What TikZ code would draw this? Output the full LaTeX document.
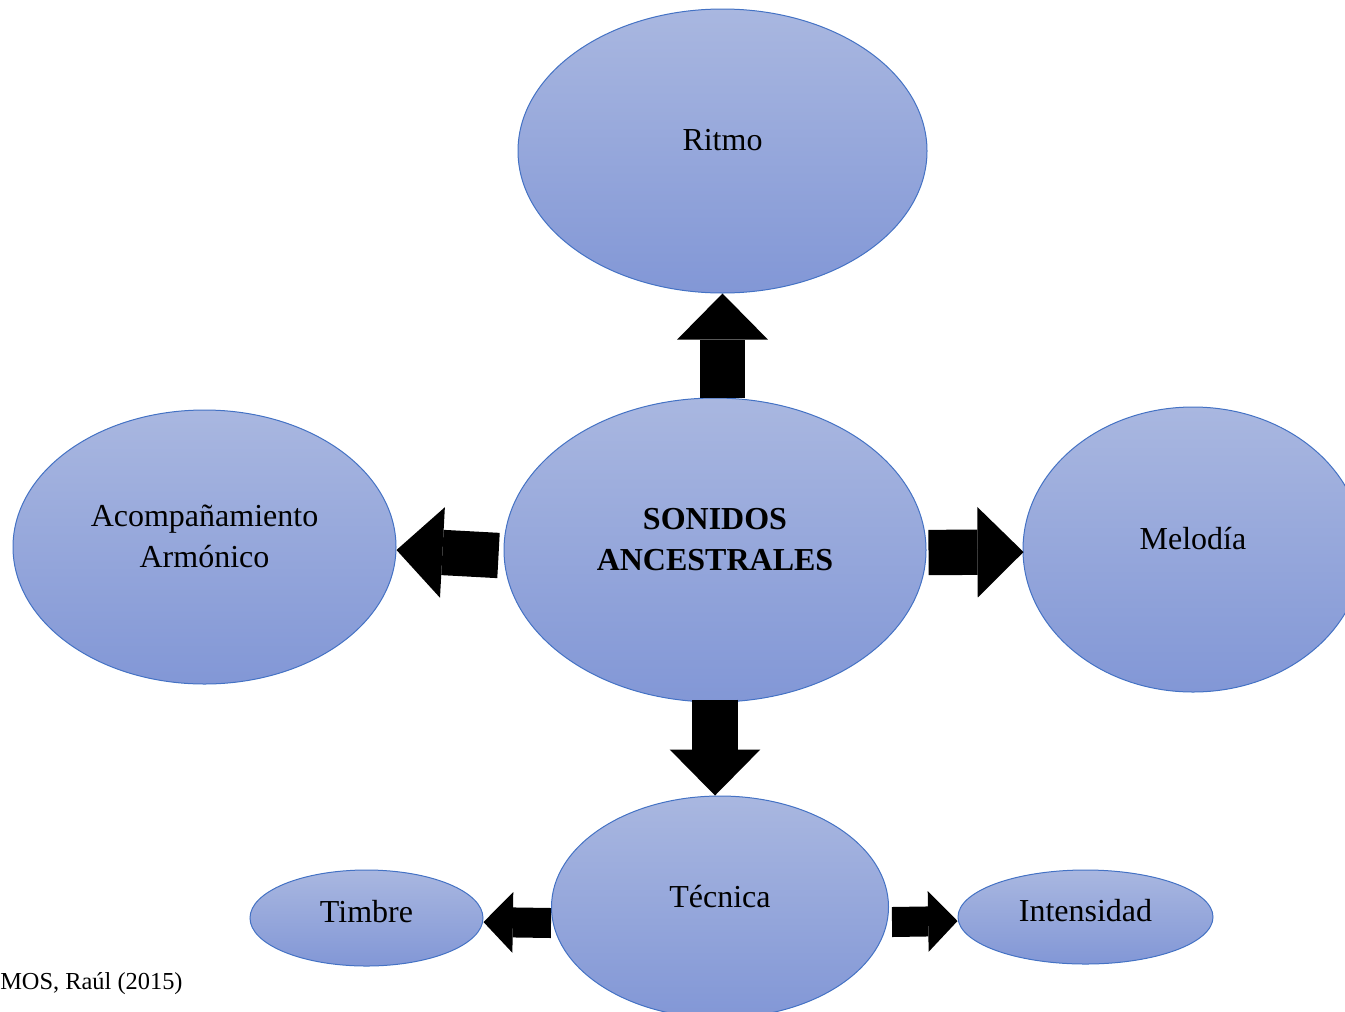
\documentclass[tikz,border=0pt]{standalone}
\usepackage{fontspec}
\setmainfont{Liberation Serif}
\usetikzlibrary{shapes.geometric,arrows.meta,calc}

\definecolor{azularriba}{RGB}{169,183,224}
\definecolor{azulabajo}{RGB}{130,151,214}
\definecolor{azulborde}{RGB}{68,114,196}

\tikzset{
  globo/.style={ellipse,draw=azulborde,line width=0.75pt,top color=azularriba,bottom color=azulabajo,inner sep=0pt},
  texto/.style={font=\fontsize{24}{30.75}\selectfont,align=center,yshift=8pt},
  textochico/.style={font=\fontsize{24}{30.75}\selectfont,align=center,yshift=5pt},
  bloque/.style={line width=34pt,-{Triangle[length=34.5pt,width=68pt,line width=0pt]}},
  bloquechico/.style={line width=22.5pt,-{Triangle[length=22pt,width=45.5pt,line width=0pt]}}
}

\begin{document}
\begin{tikzpicture}[x=0.75pt,y=0.75pt,yscale=-1,xscale=1]
\useasboundingbox (0,0) rectangle (1345,1011);

%Ellipses
\node [globo,minimum width=306.75pt,minimum height=213pt,label={[texto]center:Ritmo}] (ritmo) at (722.5,151) {};
\node [globo,minimum width=316.5pt,minimum height=228pt,label={[texto]center:\textbf{SONIDOS}\\\textbf{ANCESTRALES}}] (centro) at (715,550) {};
\node [globo,minimum width=287.25pt,minimum height=205.5pt,label={[texto]center:Acompañamiento\\Armónico}] (acomp) at (204.5,547) {};
\node [globo,minimum width=255pt,minimum height=213.75pt,label={[texto]center:Melodía}] (melodia) at (1193,549.5) {};
\node [globo,minimum width=252.75pt,minimum height=166.5pt,label={[texto]center:Técnica}] (tecnica) at (720,907) {};
\node [globo,minimum width=174.75pt,minimum height=72pt,label={[textochico]center:Timbre}] (timbre) at (366.5,918) {};
\node [globo,minimum width=191.25pt,minimum height=70.5pt,label={[textochico]center:Intensidad}] (intensidad) at (1085.5,917) {};

%Block arrows
\draw [bloque] (ritmo.south |- centro.north) -- (ritmo.south);
\draw [bloque] ([shift={(-5,5.5)}]centro.west) -- ([shift={(0,3)}]acomp.east);
\draw [bloque] ([shift={(2,2.5)}]centro.east) -- ([shift={(1,2.5)}]melodia.west);
\draw [bloque] ([shift={(0,-3)}]centro.south) -- (centro.south |- tecnica.north);
\draw [bloquechico] ([shift={(0,5)}]tecnica.west |- timbre.east) -- ([shift={(0,4)}]timbre.east);
\draw [bloquechico] ([shift={(3,5)}]tecnica.east |- intensidad.west) -- ([shift={(0,4)}]intensidad.west);

%Source
\node [anchor=west,inner sep=0pt,font=\fontsize{18.3}{22}\selectfont] (fuente) at (0,984) {MOS, Raúl (2015)};

\end{tikzpicture}
\end{document}
